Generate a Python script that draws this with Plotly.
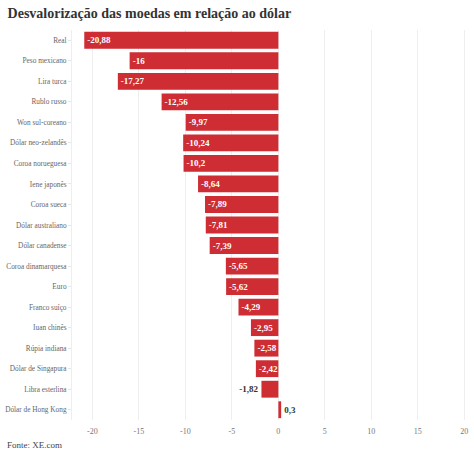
import plotly.graph_objects as go

moedas = ["Real", "Peso mexicano", "Lira turca", "Rublo russo", "Won sul-coreano",
          "Dólar neo-zelandês", "Coroa norueguesa", "Iene japonês", "Coroa sueca",
          "Dólar australiano", "Dólar canadense", "Coroa dinamarquesa", "Euro",
          "Franco suíço", "Iuan chinês", "Rúpia indiana", "Dólar de Singapura",
          "Libra esterlina", "Dólar de Hong Kong"]
valores = [-20.88, -16, -17.27, -12.56, -9.97, -10.24, -10.2, -8.64, -7.89, -7.81,
           -7.39, -5.65, -5.62, -4.29, -2.95, -2.58, -2.42, -1.82, 0.3]
x_ticks = [-20, -15, -10, -5, 0, 5, 10, 15, 20]

rotulos = [("%g" % v).replace(".", ",") for v in valores]
posicoes = ["inside" if v <= -2 else "outside" for v in valores]

SERIF = "Liberation Serif"

fig = go.Figure(go.Bar(
    x=valores, y=moedas, orientation="h",
    marker=dict(color="#cd2d33", line=dict(width=0)),
    text=rotulos, textposition=posicoes, insidetextanchor="end",
    constraintext="none", cliponaxis=False,
    outsidetextfont=dict(family=SERIF, size=9, color="#333333", weight="bold"),
    insidetextfont=dict(family=SERIF, size=9, color="white", weight="bold"),
))

fig.update_layout(
    width=474, height=454,
    margin=dict(l=72, r=6, t=30, b=34, autoexpand=False),
    paper_bgcolor="white", plot_bgcolor="white",
    bargap=0.18,
    showlegend=False,
    font=dict(family=SERIF, color="#555555"),
    title=dict(text="Desvalorização das moedas em relação ao dólar",
               x=0.016, xanchor="left", y=0.972, yanchor="middle",
               font=dict(family=SERIF, size=14, color="#333333", weight="bold")),
    xaxis=dict(range=[-22.2, 20.4], tickvals=x_ticks, ticktext=[str(t) for t in x_ticks],
               showgrid=True, gridcolor="#eeeeee", gridwidth=1, zeroline=False,
               showline=False, automargin=False,
               ticks="outside", ticklen=3, tickcolor="rgba(0,0,0,0)",
               tickfont=dict(family=SERIF, size=8, color="#777777")),
    yaxis=dict(autorange="reversed", showgrid=False, zeroline=False, automargin=False,
               ticks="outside", ticklen=3, tickcolor="#e6e6e6",
               showline=True, linecolor="#eeeeee",
               tickfont=dict(family=SERIF, size=7.3, color="#666666")),
    annotations=[dict(text="Fonte: XE.com", x=-0.168, y=-0.064, xref="paper", yref="paper",
                      xanchor="left", yanchor="middle", showarrow=False,
                      font=dict(family=SERIF, size=9, color="#444444"))],
)

fig.write_html("out.html",
               config={"displayModeBar": False},
               post_script="document.body.style.margin='0';"
                           "document.body.style.overflow='hidden';")
